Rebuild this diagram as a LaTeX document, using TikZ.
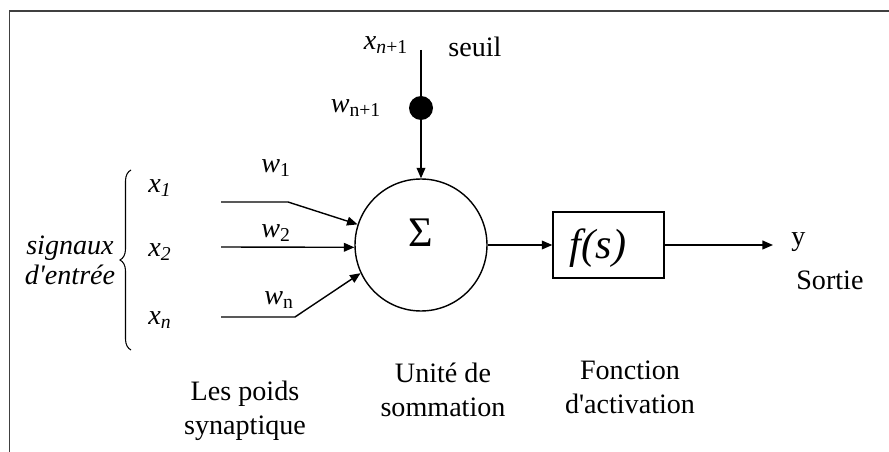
\documentclass[tikz,border=0pt]{standalone}
\usepackage{fontspec}
\setmainfont{Liberation Serif}
\usetikzlibrary{arrows.meta, decorations.pathreplacing}

\begin{document}
\begin{tikzpicture}[
    x=0.02cm, y=-0.02cm,
    font=\fontsize{16}{19.5}\selectfont,
    neuron/.style={
        circle, draw=black, line width=0.8pt,
        minimum size=2.64cm, inner sep=0pt
    },
    actbox/.style={
        rectangle, draw=black, line width=0.8pt,
        minimum width=2.22cm, minimum height=1.32cm, inner sep=0pt
    },
    weightdot/.style={circle, fill=black, minimum size=0.48cm, inner sep=0pt},
    lbl/.style={inner sep=0pt},
    caption/.style={align=center, inner sep=0pt},
    inbrace/.style={decorate, decoration={brace, amplitude=0.22cm}, line width=0.6pt},
    arrow/.style={draw=black, line width=0.8pt, -{Triangle[length=6pt, width=5pt]}},
    line/.style={draw=black, line width=0.8pt},
    frame/.style={draw=black!75, line width=1.1pt}
]
\useasboundingbox (0,0) rectangle (889,452);

% frame
\draw[frame] (9.5,452) |- (889,11);

% 1. SUMMATION UNIT
\node[neuron] (Sum) at (421,245) {};
\node[lbl, font=\fontsize{24}{24}\selectfont] (Sigma) at (421,233) {Σ};

% 2. THRESHOLD
\coordinate (Bias) at (421,50);
\node[weightdot] (Dot) at (421,108) {};
\draw[line] (Bias) -- (Dot);
\draw[arrow] (Dot) -- (Sum);
\node[lbl] (XBias) at (386,45) {\textit{x}\textsubscript{\textit{n}+1}};
\node[lbl] (Seuil) at (475,47) {seuil};
\node[lbl] (WBias) at (356,108) {\textit{w}\textsubscript{n+1}};

% 3. INPUTS
\coordinate (In1) at (221,202);
\coordinate (In2) at (221,247);
\coordinate (InN) at (221,317);
\draw[arrow] (In1) -- ++(67,0) -- (Sum.162);
\draw[arrow] (In2) -- (Sum.182);
\draw[arrow] (InN) -- ++(74,0) -- (Sum.205);

\node[lbl] (X1) at (160,188) {\textit{x}\textsubscript{\textit{1}}};
\node[lbl] (X2) at (160,252) {\textit{x}\textsubscript{\textit{2}}};
\node[lbl] (XN) at (160,320) {\textit{x}\textsubscript{\textit{n}}};
\node[lbl] (W1) at (276,168) {\textit{w}\textsubscript{1}};
\node[lbl] (W2) at (276,233) {\textit{w}\textsubscript{2}};
\node[lbl] (WN) at (279,300) {\textit{w}\textsubscript{n}};

\coordinate (BraceBot) at (131,350);
\coordinate (BraceTop) at (131,170);
\draw[inbrace] (BraceBot) -- (BraceTop);
\node[caption, font=\fontsize{16}{17}\selectfont\itshape] (Signaux) at (70,260) {signaux\\d\textquotesingle entrée};

% 4. ACTIVATION AND OUTPUT
\node[actbox] (Act) at (608.5,245) {};
\node[lbl, font=\fontsize{24}{24}\selectfont\itshape] (Fs) at (598,248) {f(s)};
\draw[arrow] (Sum) -- (Act);
\coordinate (Out) at (773,245);
\draw[arrow] (Act) -- (Out);
\node[lbl, anchor=west] (Y) at (791,242) {y};
\node[lbl, anchor=west] (Sortie) at (796,280) {Sortie};

% 5. CAPTIONS
\node[caption] (Poids) at (245,411) {Les poids\\synaptique};
\node[caption] (Unite) at (443,390) {Unité de\\sommation};
\node[caption] (Fonction) at (630,387) {Fonction\\d\textquotesingle activation};

\end{tikzpicture}
\end{document}
